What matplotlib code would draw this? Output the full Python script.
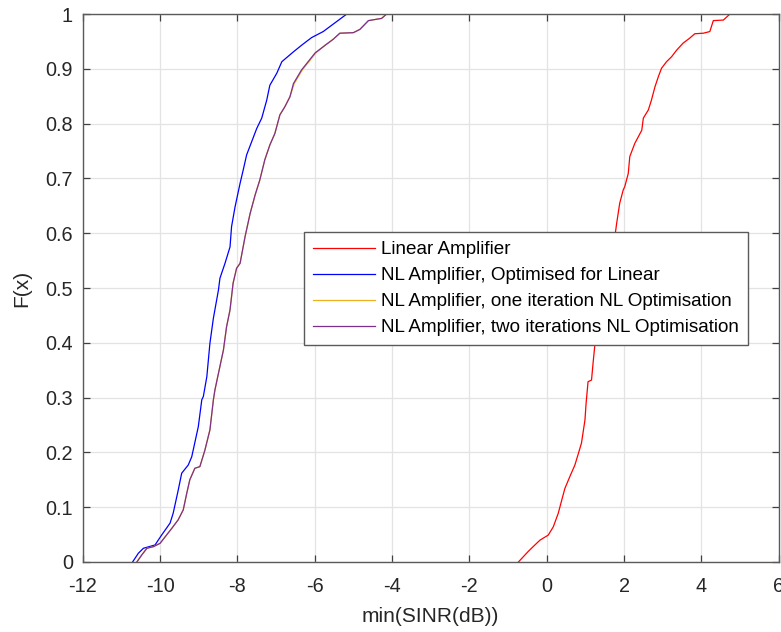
import numpy as np
import matplotlib
matplotlib.use('Agg')
from matplotlib import pyplot as plt

# points (x = min SINR in dB, F = cdf value)
lin_x = [-0.73, -0.48, -0.35, -0.17, 0.04, 0.17, 0.30, 0.39, 0.47, 0.60, 0.73, 0.82,
         0.90, 0.99, 1.02, 1.07, 1.16, 1.20, 1.25, 1.77, 1.81, 1.89, 1.98, 2.02, 2.11,
         2.15, 2.28, 2.46, 2.50, 2.63, 2.71, 2.80, 2.89, 2.97, 3.10, 3.23, 3.36, 3.53,
         3.70, 3.83, 4.05, 4.22, 4.31, 4.57, 4.74, 4.91]
lin_F = [0.0, 0.019, 0.028, 0.040, 0.049, 0.064, 0.089, 0.113, 0.134, 0.156, 0.177, 0.198,
         0.217, 0.259, 0.290, 0.329, 0.332, 0.363, 0.399, 0.597, 0.618, 0.655, 0.679, 0.685, 0.709,
         0.740, 0.764, 0.788, 0.810, 0.825, 0.843, 0.867, 0.886, 0.901, 0.913, 0.922, 0.934, 0.947,
         0.956, 0.964, 0.965, 0.968, 0.988, 0.989, 1.0, 1.0]

nl_lin_x = [-10.71, -10.56, -10.43, -10.13, -9.96, -9.74, -9.66, -9.53, -9.44, -9.27, -9.18,
            -9.01, -8.92, -8.88, -8.79, -8.71, -8.62, -8.49, -8.45, -8.32, -8.19, -8.15, -8.06,
            -7.93, -7.85, -7.76, -7.63, -7.50, -7.37, -7.24, -7.16, -6.98, -6.85, -6.55, -6.34,
            -6.08, -5.78, -5.475, -5.17, -4.79]
nl_lin_F = [0.0, 0.016, 0.025, 0.031, 0.049, 0.071, 0.089, 0.131, 0.162, 0.177, 0.192,
            0.247, 0.296, 0.302, 0.338, 0.399, 0.445, 0.496, 0.518, 0.545, 0.575, 0.612, 0.648,
            0.691, 0.715, 0.743, 0.767, 0.791, 0.810, 0.843, 0.870, 0.892, 0.913, 0.931, 0.943,
            0.957, 0.968, 0.984, 1.0, 1.0]

nl_one_x = [-10.60, -10.47, -10.34, -10.17, -10.00, -9.70, -9.53, -9.40, -9.31, -9.23, -9.10,
            -8.97, -8.84, -8.71, -8.62, -8.58, -8.49, -8.36, -8.28, -8.19, -8.11, -8.02, -7.93,
            -7.80, -7.67, -7.54, -7.42, -7.29, -7.16, -7.03, -6.90, -6.77, -6.64, -6.53, -6.32,
            -6.15, -5.97, -5.73, -5.52, -5.35, -5.00, -4.83, -4.61, -4.27, -4.14, -3.88]
nl_one_F = [0.0, 0.013, 0.025, 0.028, 0.034, 0.061, 0.077, 0.095, 0.125, 0.150, 0.171,
            0.174, 0.204, 0.241, 0.296, 0.314, 0.344, 0.387, 0.429, 0.460, 0.509, 0.536, 0.545,
            0.594, 0.636, 0.670, 0.697, 0.734, 0.761, 0.782, 0.816, 0.831, 0.849, 0.873, 0.898,
            0.913, 0.929, 0.943, 0.954, 0.965, 0.966, 0.972, 0.988, 0.992, 1.0, 1.0]

nl_two_x = [-10.60, -10.47, -10.34, -10.17, -10.00, -9.70, -9.53, -9.40, -9.31, -9.23, -9.10,
            -8.97, -8.84, -8.71, -8.62, -8.58, -8.49, -8.36, -8.28, -8.19, -8.11, -8.02, -7.93,
            -7.80, -7.67, -7.54, -7.42, -7.29, -7.16, -7.03, -6.90, -6.77, -6.64, -6.55, -6.34,
            -6.17, -5.99, -5.73, -5.52, -5.35, -5.00, -4.83, -4.61, -4.27, -4.14, -3.88]
nl_two_F = [0.0, 0.013, 0.025, 0.028, 0.034, 0.061, 0.077, 0.095, 0.125, 0.150, 0.171,
            0.174, 0.204, 0.241, 0.296, 0.314, 0.344, 0.387, 0.429, 0.460, 0.509, 0.536, 0.545,
            0.594, 0.636, 0.670, 0.697, 0.734, 0.761, 0.782, 0.816, 0.831, 0.849, 0.873, 0.898,
            0.913, 0.929, 0.943, 0.954, 0.965, 0.966, 0.972, 0.988, 0.992, 1.0, 1.0]

labels = ['Linear Amplifier', 'NL Amplifier, Optimised for Linear',
          'NL Amplifier, one iteration NL Optimisation',
          'NL Amplifier, two iterations NL Optimisation']
x_ticks = np.arange(-12, 7, 2)
y_ticks = np.arange(0, 1.01, 0.1)
y_ticklabels = ['0', '0.1', '0.2', '0.3', '0.4', '0.5', '0.6', '0.7', '0.8', '0.9', '1']

plt.rcParams['font.family'] = ['Liberation Sans', 'DejaVu Sans']
plt.rcParams['font.size'] = 14.3

fig = plt.figure(figsize=(7.81, 6.32), dpi=100)
ax = fig.add_axes([0.1059, 0.1108, 0.8911, 0.867])

lw = 0.9
ax.plot(lin_x, lin_F, color='#ff0000', lw=lw, label=labels[0])
ax.plot(nl_lin_x, nl_lin_F, color='#0000ff', lw=lw, label=labels[1])
ax.plot(nl_one_x, nl_one_F, color='#EDB120', lw=lw, label=labels[2])
ax.plot(nl_two_x, nl_two_F, color='#7E2F8E', lw=lw, label=labels[3])

ax.set_xlim(-12, 6)
ax.set_ylim(0, 1)
ax.set_xticks(x_ticks)
ax.set_xticklabels([str(v) for v in x_ticks])
ax.set_yticks(y_ticks)
ax.set_yticklabels(y_ticklabels)
ax.grid(True, color='#e3e3e3', lw=0.9)
ax.set_axisbelow(True)
ax.tick_params(direction='in', length=5, width=0.9, color='#404040',
               top=True, right=True, labelcolor='#262626')
ax.tick_params(axis='x', pad=10.5)
ax.tick_params(axis='y', pad=7)
for s in ax.spines.values():
    s.set_color('#5a5a5a')
    s.set_linewidth(1.0)

ax.set_xlabel('min(SINR(dB))', color='#262626', fontsize=15, labelpad=8)
ax.set_ylabel('F(x)', color='#262626', fontsize=15, labelpad=10)

leg = ax.legend(loc='upper left', bbox_to_anchor=(0.318, 0.6016), borderaxespad=0,
                fancybox=False, framealpha=1, edgecolor='#5a5a5a', fontsize=13.6,
                handlelength=3.3, handletextpad=0.3, borderpad=0.47, labelspacing=0.46)
leg.get_frame().set_linewidth(1.0)

plt.savefig('out.png', dpi=100)
